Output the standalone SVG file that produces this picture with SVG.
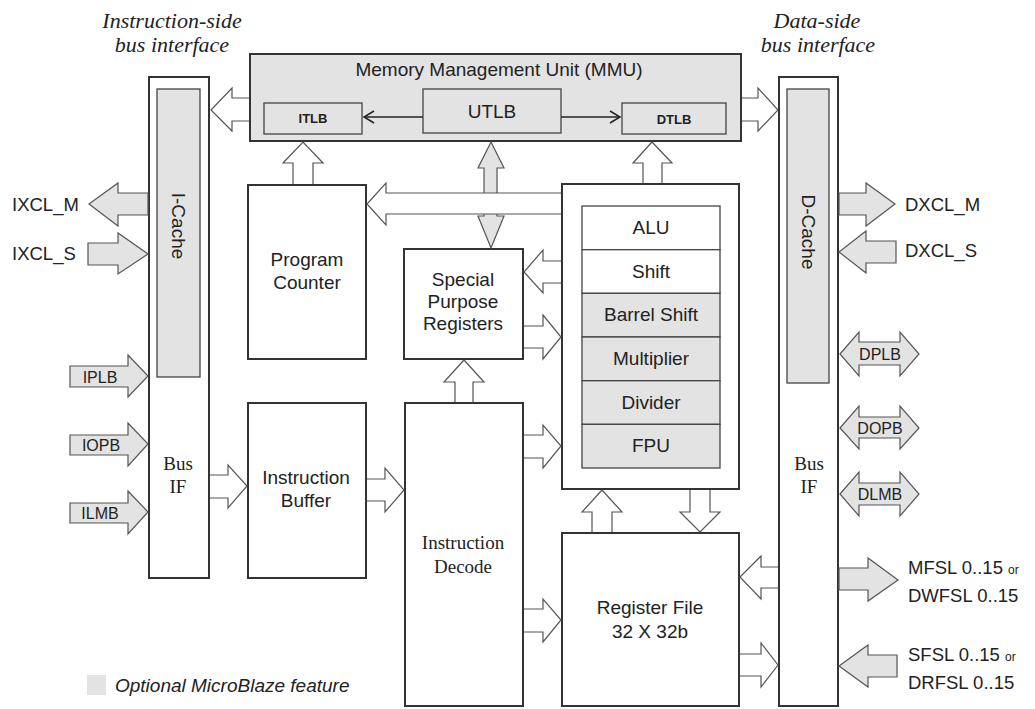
<svg xmlns="http://www.w3.org/2000/svg" width="1035" height="709" viewBox="0 0 1035 709">
<style>
.box{fill:#fff;stroke:#333;stroke-width:2}
.gbox{fill:#e3e3e3;stroke:#333;stroke-width:2}
.sub{fill:#e3e3e3;stroke:#444;stroke-width:1.3}
.row{stroke:#444;stroke-width:1.3}
.w{fill:#fff;stroke:#555;stroke-width:1.2}
.g{fill:#e3e3e3;stroke:#555;stroke-width:1.2}
.t{font-family:"Liberation Sans",Arial,sans-serif;font-size:19px;fill:#222;text-anchor:middle}
.s{font-family:"Liberation Serif","Times New Roman",serif;font-size:19px;fill:#222;text-anchor:middle}
.i{font-family:"Liberation Serif","Times New Roman",serif;font-style:italic;font-size:22px;fill:#222;text-anchor:middle}
.b{font-family:"Liberation Sans",Arial,sans-serif;font-size:13px;font-weight:bold;fill:#222;text-anchor:middle}
.sm{font-family:"Liberation Sans",Arial,sans-serif;font-size:16px;fill:#222;text-anchor:middle}
.l{font-family:"Liberation Sans",Arial,sans-serif;font-size:18.5px;fill:#222}
</style>
<text class="i" x="172" y="28">Instruction-side</text>
<text class="i" x="172" y="52">bus interface</text>
<text class="i" x="817" y="28">Data-side</text>
<text class="i" x="818" y="52">bus interface</text>

<g id="iside">
<rect class="box" x="149" y="77" width="60" height="501"/>
<rect class="sub" x="157" y="89" width="43" height="288"/>
<text class="t" transform="translate(172,226) rotate(90)">I-Cache</text>
<text class="s" x="178" y="470">Bus</text>
<text class="s" x="178" y="493">IF</text>
</g>
<g id="dside">
<rect class="box" x="779" y="77" width="59" height="629"/>
<rect class="sub" x="787" y="89" width="42" height="294"/>
<text class="t" transform="translate(802,232) rotate(90)">D-Cache</text>
<text class="s" x="809" y="470">Bus</text>
<text class="s" x="809" y="493">IF</text>
</g>
<g id="mmu">
<rect class="gbox" x="250" y="54" width="491" height="87"/>
<text class="t" x="499" y="76" font-size="19.5">Memory Management Unit (MMU)</text>
</g>
<g id="itlb">
<rect class="sub" x="264" y="103" width="98" height="31"/>
<text class="b" x="313" y="123">ITLB</text>
</g>
<g id="utlb">
<rect class="sub" x="423" y="89" width="138" height="44"/>
<text class="t" x="492" y="118" font-size="20">UTLB</text>
</g>
<g id="dtlb">
<rect class="sub" x="622" y="103" width="104" height="31"/>
<text class="b" x="674" y="124">DTLB</text>
</g>
<g id="pc">
<rect class="box" x="248" y="185" width="118" height="174"/>
<text class="t" x="307" y="266">Program</text>
<text class="t" x="307" y="289">Counter</text>
</g>
<g id="spr">
<rect class="box" x="404" y="249" width="119" height="110"/>
<text class="t" x="463" y="286">Special</text>
<text class="t" x="463" y="308">Purpose</text>
<text class="t" x="463" y="330">Registers</text>
</g>
<g id="exec">
<rect class="box" x="562" y="184" width="177" height="305"/>
<rect class="row" fill="#fff" x="582" y="206" width="138" height="43.7"/>
<rect class="row" fill="#fff" x="582" y="249.7" width="138" height="43.7"/>
<rect class="row" fill="#e3e3e3" x="582" y="293.3" width="138" height="43.7"/>
<rect class="row" fill="#e3e3e3" x="582" y="337" width="138" height="43.7"/>
<rect class="row" fill="#e3e3e3" x="582" y="380.7" width="138" height="43.7"/>
<rect class="row" fill="#e3e3e3" x="582" y="424.3" width="138" height="43.7"/>
<text class="t" x="651" y="234">ALU</text>
<text class="t" x="651" y="278">Shift</text>
<text class="t" x="651" y="321">Barrel Shift</text>
<text class="t" x="651" y="365">Multiplier</text>
<text class="t" x="651" y="409">Divider</text>
<text class="t" x="651" y="452">FPU</text>
</g>
<g id="ib">
<rect class="box" x="248" y="403" width="118" height="175"/>
<text class="t" x="306" y="484">Instruction</text>
<text class="t" x="306" y="507">Buffer</text>
</g>
<g id="id">
<rect class="box" x="405" y="403" width="118" height="303"/>
<text class="s" x="463" y="549">Instruction</text>
<text class="s" x="463" y="573">Decode</text>
</g>
<g id="rf">
<rect class="box" x="562" y="533" width="177" height="173"/>
<text class="t" x="650" y="614">Register File</text>
<text class="t" x="650" y="638">32 X 32b</text>
</g>

<g id="connectors">
<line x1="423" y1="117" x2="364" y2="117" stroke="#222" stroke-width="1.5"/>
<polyline points="374,111 364,117 374,123" fill="none" stroke="#222" stroke-width="1.5"/>
<line x1="561" y1="117" x2="620" y2="117" stroke="#222" stroke-width="1.5"/>
<polyline points="610,111 620,117 610,123" fill="none" stroke="#222" stroke-width="1.5"/>
<path class="w" d="M249,98 L232,98 L232,88 L211,110 L232,131 L232,121 L249,121"/>
<path class="w" d="M742,98 L758,98 L758,88 L778,110 L758,131 L758,121 L742,121"/>
<path class="w" d="M293,184 L293,163 L283,163 L303,142 L323,163 L313,163 L313,184"/>
<path class="w" d="M643,183 L643,163 L633,163 L652,142 L672,163 L662,163 L662,183"/>
<path class="g" d="M491,142 L504,168 L497,168 L497,216 L504,216 L491,248 L478,216 L484,216 L484,168 L478,168 Z"/>
<path class="w" d="M561,193 L386,193 L386,183 L367,204 L386,225 L386,214 L561,214"/>
<path class="w" d="M561,261 L543,261 L543,250 L524,272 L543,293 L543,283 L561,283"/>
<path class="w" d="M524,326 L543,326 L543,315 L561,337 L543,359 L543,348 L524,348"/>
<path class="w" d="M455,402 L455,382 L444,382 L464,360 L484,382 L473,382 L473,402"/>
<path class="w" d="M524,435 L543,435 L543,425 L561,446 L543,468 L543,458 L524,458"/>
<path class="w" d="M524,609 L543,609 L543,599 L561,620 L543,642 L543,632 L524,632"/>
<path class="w" d="M592,532 L592,512 L582,512 L602,490 L622,512 L612,512 L612,532"/>
<path class="w" d="M690,490 L690,512 L680,512 L700,532 L720,512 L710,512 L710,490"/>
<path class="w" d="M367,479 L385,479 L385,468 L404,490 L385,512 L385,501 L367,501"/>
<path class="w" d="M210,475 L228,475 L228,465 L247,486 L228,508 L228,498 L210,498"/>
<path class="w" d="M778,567 L761,567 L761,556 L740,577 L761,599 L761,588 L778,588"/>
<path class="w" d="M740,654 L761,654 L761,643 L778,665 L761,687 L761,676 L740,676"/>
<path class="g" d="M148,193 L118,193 L118,183 L89,204 L118,226 L118,215 L148,215 Z"/>
<path class="g" d="M88,243 L118,243 L118,233 L148,254 L118,274 L118,265 L88,265 Z"/>
<path class="g" d="M70,366 L128,366 L128,355 L148,376 L128,397 L128,387 L70,387 Z"/>
<path class="g" d="M70,435 L128,435 L128,423 L148,444 L128,466 L128,455 L70,455 Z"/>
<path class="g" d="M70,503 L128,503 L128,491 L148,512 L128,534 L128,523 L70,523 Z"/>
<path class="g" d="M839,193 L866,193 L866,183 L895,204 L866,226 L866,215 L839,215 Z"/>
<path class="g" d="M896,241 L866,241 L866,231 L839,252 L866,273 L866,263 L896,263 Z"/>
<path class="g" d="M840,354 L859,332 L859,342 L900,342 L900,332 L919,354 L900,376 L900,365 L859,365 L859,376 Z"/>
<path class="g" d="M840,428 L859,406 L859,417 L900,417 L900,406 L919,428 L900,449 L900,438 L859,438 L859,449 Z"/>
<path class="g" d="M840,494 L859,472 L859,483 L900,483 L900,472 L919,494 L900,516 L900,505 L859,505 L859,516 Z"/>
<path class="g" d="M839,568 L868,568 L868,558 L898,580 L868,601 L868,590 L839,590 Z"/>
<path class="g" d="M897,655 L868,655 L868,645 L839,666 L868,687 L868,677 L897,677 Z"/>
</g>

<text class="l" x="12" y="211">IXCL_M</text>
<text class="l" x="12" y="260">IXCL_S</text>
<text class="sm" x="100" y="383">IPLB</text>
<text class="sm" x="101" y="451">IOPB</text>
<text class="sm" x="100" y="519">ILMB</text>
<text class="l" x="905" y="211">DXCL_M</text>
<text class="l" x="905" y="257">DXCL_S</text>
<text class="sm" x="880" y="360">DPLB</text>
<text class="sm" x="880" y="434">DOPB</text>
<text class="sm" x="880" y="500">DLMB</text>
<text class="l" x="908" y="574">MFSL 0..15 <tspan font-size="12">or</tspan></text>
<text class="l" x="908" y="602">DWFSL 0..15</text>
<text class="l" x="908" y="661">SFSL 0..15 <tspan font-size="12">or</tspan></text>
<text class="l" x="908" y="689">DRFSL 0..15</text>
<rect x="87" y="675" width="19" height="20" fill="#e3e3e3"/>
<text x="115" y="692" font-family="Liberation Sans,Arial,sans-serif" font-style="italic" font-size="19" fill="#222">Optional MicroBlaze feature</text>
</svg>
